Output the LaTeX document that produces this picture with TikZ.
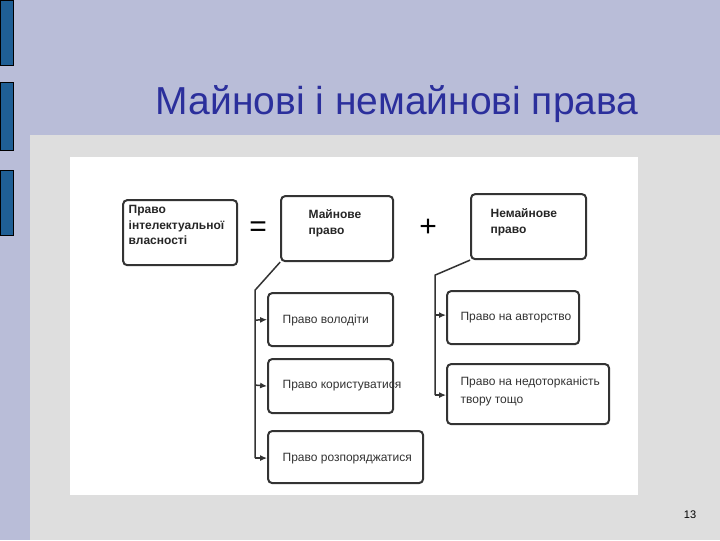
\documentclass[tikz,border=0pt]{standalone}
\usepackage{fontspec}
\setmainfont{Liberation Sans}
\usetikzlibrary{arrows.meta}
\definecolor{lav}{HTML}{B9BDD8}
\definecolor{gr}{HTML}{DEDEDE}
\definecolor{bar}{HTML}{1F5F95}
\definecolor{ttl}{HTML}{2B2F9C}
\tikzset{bx/.style={draw=black!80,line width=2pt,rounded corners=4pt,anchor=north west,inner sep=0pt},
 tx/.style={anchor=north west,font=\fontsize{12}{14}\selectfont,align=left,text=black!80},
 btx/.style={anchor=north west,font=\fontsize{12}{15.5}\selectfont\bfseries,align=left,text=black!85},
 ar/.style={draw=black!80,line width=1.5pt,-{Latex[length=7pt,width=6pt]}},
 ln/.style={draw=black!80,line width=1.5pt}}
\begin{document}
\begin{tikzpicture}[x=1pt,y=-1pt]
\fill[lav] (0,0) rectangle (720,540);
\fill[gr] (30,135) rectangle (720,540);
\fill[white] (70,157) rectangle (638,495);
\foreach \a/\b in {0/65,82/150,170/235}{\filldraw[fill=bar,draw=black] (0,\a) rectangle (13,\b);}
\node[font=\fontsize{39}{42}\selectfont,text=ttl] (title) at (397,104) {Майнові і немайнові права};
\node[font=\fontsize{11}{12}\selectfont] (num) at (690,515) {13};
\node[bx,minimum width=114pt,minimum height=65pt] (A) at (122,199) {};
\node[btx] at (125,202) {Право\\інтелектуальної\\власності};
\node[font=\fontsize{30}{30}\selectfont] (eq) at (258,229) {=};
\node[bx,minimum width=112pt,minimum height=65pt] (B) at (280,195) {};
\node[btx] at (305,206) {Майнове\\право};
\node[font=\fontsize{30}{30}\selectfont] (pl) at (428,228) {+};
\node[bx,minimum width=115pt,minimum height=65pt] (C) at (470,193) {};
\node[btx] at (487,205) {Немайнове\\право};
\node[bx,minimum width=125pt,minimum height=53pt] (L1) at (267,292) {};
\node[tx] at (279,311) {Право володіти};
\node[bx,minimum width=125pt,minimum height=54pt] (L2) at (267,358) {};
\node[tx] at (279,377) {Право користуватися};
\node[bx,minimum width=155pt,minimum height=52pt] (L3) at (267,430) {};
\node[tx] at (279,450) {Право розпоряджатися};
\node[bx,minimum width=132pt,minimum height=53pt] (R1) at (446,290) {};
\node[tx] at (457,309) {Право на авторство};
\node[bx,minimum width=162pt,minimum height=60pt] (R2) at (446,363) {};
\node[tx,font=\fontsize{12}{18}\selectfont] at (457,373) {Право на недоторканість\\твору тощо};
\coordinate (lt) at (255,290);
\coordinate (rt) at (435,275);
\draw[ln] (B.south west) -- (lt) -- (255,458);
\draw[ln] (C.south west) -- (rt) -- (435,395);
\draw[ar] (255,320) -- (L1.west);
\draw[ar] (255,385) -- (L2.west);
\draw[ar] (255,458) -- (L3.west|-0,458);
\draw[ar] (435,315) -- (R1.west|-0,315);
\draw[ar] (435,395) -- (R2.west|-0,395);
\end{tikzpicture}
\end{document}
